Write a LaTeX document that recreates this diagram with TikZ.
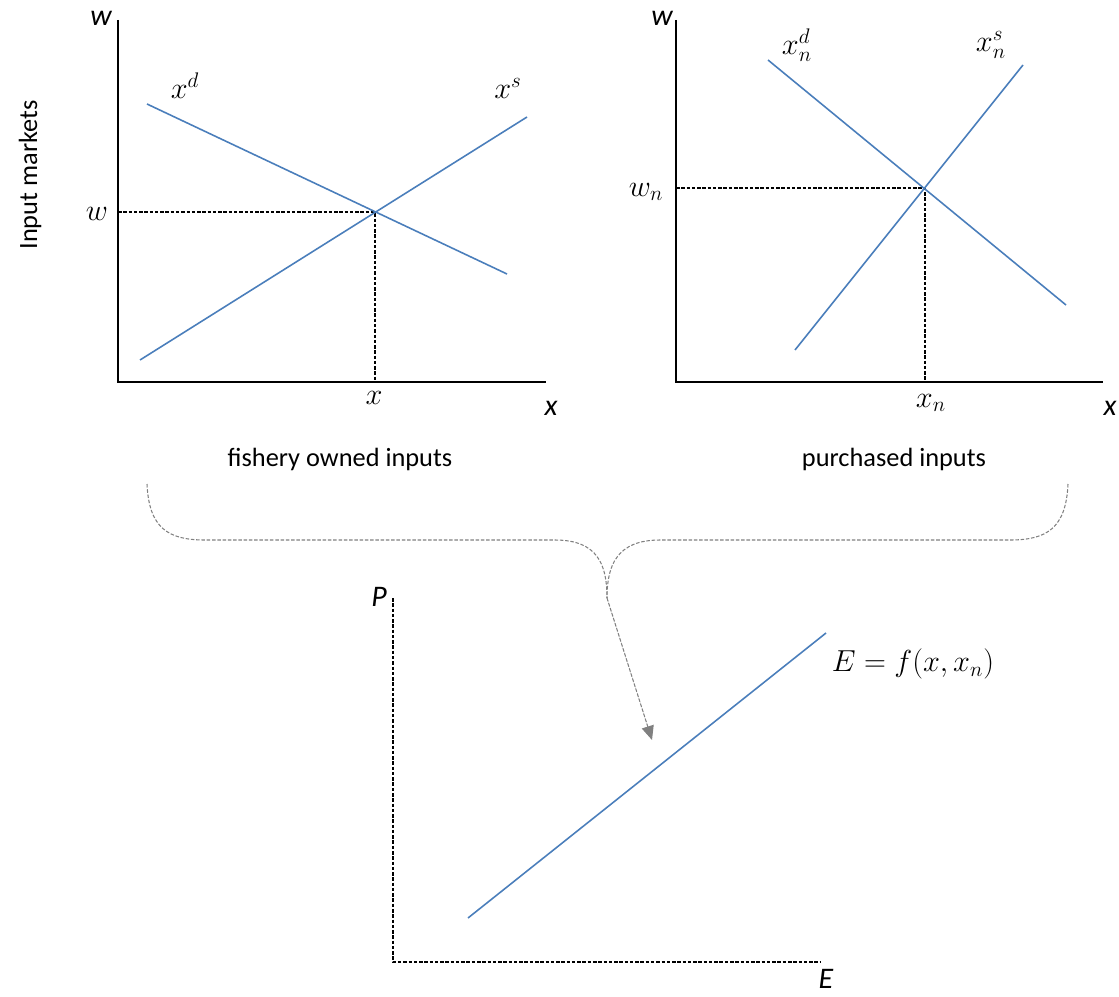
\documentclass[tikz,border=0pt]{standalone}
\usepackage{amsmath}
\usepackage{fontspec}
\setmainfont{Carlito}
\usepackage{tikz}
\usetikzlibrary{arrows.meta, positioning}
\definecolor{curveblue}{RGB}{74,126,187}

\begin{document}
\begin{tikzpicture}[x=0.02cm, y=-0.02cm, font=\fontsize{15}{18}\selectfont,
    axis/.style={line width=1.1pt},
    curve/.style={line width=0.9pt, draw=curveblue},
    guide/.style={line width=0.6pt, dash pattern=on 2pt off 1pt},
    bracepath/.style={line width=0.6pt, draw=gray, dash pattern=on 2pt off 1pt},
    axislabel/.style={font=\fontsize{17}{18}\selectfont\itshape, inner sep=0pt},
    mathlabel/.style={font=\fontsize{17}{18}\selectfont, inner sep=0pt}]
    \useasboundingbox (0,0) rectangle (1119,997);

    \node[rotate=90] (markets) at (30,175) {Input markets};

    % fishery owned inputs
    \draw[axis] (118,20) -- (118,382) -- (546,382);
    \coordinate (eq) at (375,212);
    \draw[guide] (118,212) -- (eq) -- (375,382);
    \draw[curve] (147,104) -- (507,274);
    \draw[curve] (140,360) -- (527,117);
    \node[axislabel] (wtop) at (101,18) {w};
    \node[axislabel] (xright) at (551,408) {x};
    \node[mathlabel] (wlab) at (97,214) {$w$};
    \node[mathlabel] (xlab) at (374,398) {$x$};
    \node[mathlabel] (xd) at (185,86) {$x^d$};
    \node[mathlabel] (xs) at (508,88) {$x^s$};
    \node (owned) at (340,459) {fishery owned inputs};

    % purchased inputs
    \draw[axis] (676,20) -- (676,382) -- (1103,382);
    \coordinate (eqn) at (925,188);
    \draw[guide] (676,188) -- (eqn) -- (925,382);
    \draw[curve] (768,60) -- (1066,305);
    \draw[curve] (795,350) -- (1023,65);
    \node[axislabel] (wntop) at (662,18) {w};
    \node[axislabel] (xnright) at (1110,408) {x};
    \node[mathlabel] (wnlab) at (646,192) {$w_n$};
    \node[mathlabel] (xnlab) at (931,403) {$x_n$};
    \node[mathlabel] (xnd) at (797,45) {$x_n^d$};
    \node[mathlabel] (xns) at (991,45) {$x_n^s$};
    \node (purchased) at (894,459) {purchased inputs};

    % brace and arrow
    \coordinate (tip) at (607,598);
    \coordinate (target) at (652,740);
    \draw[bracepath] (147,484) .. controls (149,528) and (168,540) .. (205,540)
        -- (555,540) .. controls (598,540) and (607,565) .. (tip);
    \draw[bracepath] (1068,484) .. controls (1066,528) and (1047,540) .. (1010,540)
        -- (660,540) .. controls (617,540) and (607,565) .. (tip);
    \draw[bracepath, -{Triangle[length=8pt, width=7pt]}, fill=gray] (tip) -- (target);

    % effort
    \draw[guide, line width=0.9pt] (393,598) -- (393,962) -- (820,962);
    \draw[curve] (468,918) -- (826,633);
    \node[axislabel] (plab) at (379,597) {P};
    \node[axislabel] (elab) at (826,979) {E};
    \node[mathlabel] (func) at (913,664) {$E = f(x, x_n)$};
\end{tikzpicture}
\end{document}
